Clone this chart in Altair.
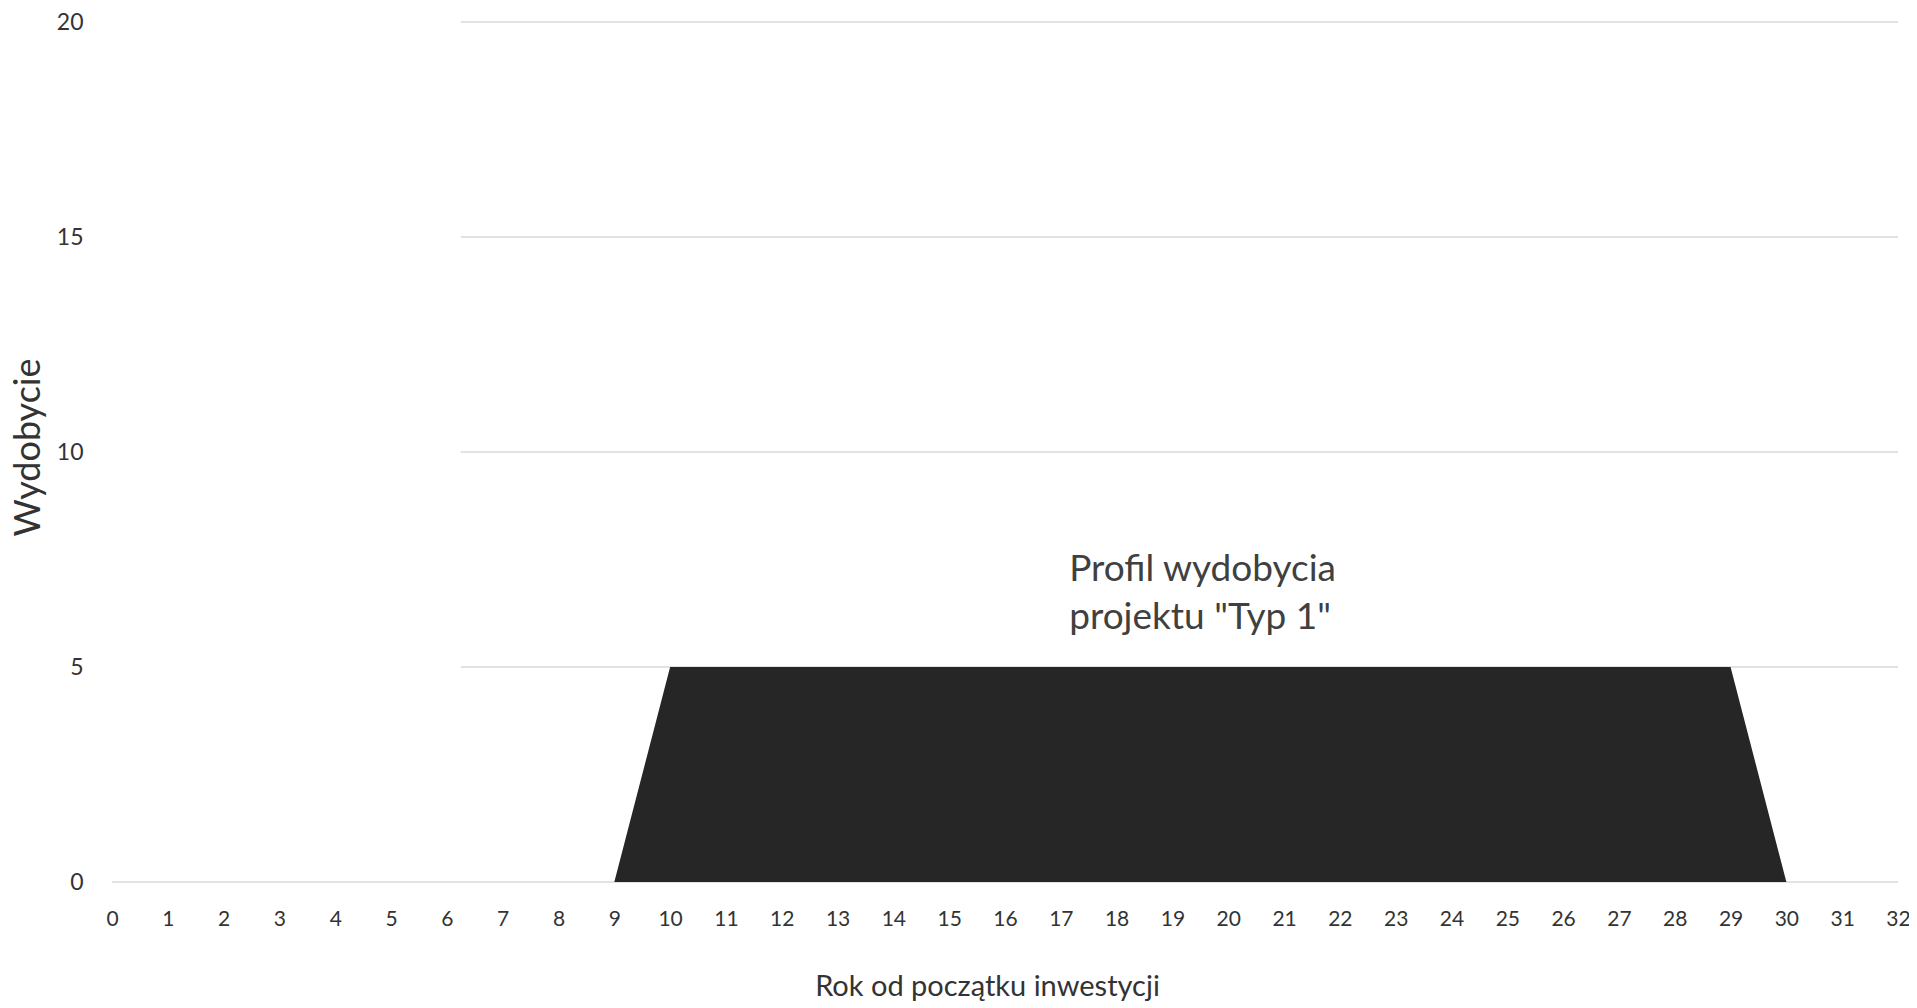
import altair as alt
import pandas as pd

# --- data ---
years = [0, 1, 2, 3, 4, 5, 6, 7, 8, 9, 10, 11, 12, 13, 14, 15, 16,
         17, 18, 19, 20, 21, 22, 23, 24, 25, 26, 27, 28, 29, 30, 31, 32]
production = [0, 0, 0, 0, 0, 0, 0, 0, 0, 0, 5, 5, 5, 5, 5, 5, 5,
              5, 5, 5, 5, 5, 5, 5, 5, 5, 5, 5, 5, 5, 0, 0, 0]
x_ticks = years
y_ticks = [0, 5, 10, 15, 20]
grid_start = [0, 6.25, 6.25, 6.25, 6.25]   # gridlines above 0 are hidden left of ~6.25
grid_end = [32, 32, 32, 32, 32]
annotation = ["Profil wydobycia", 'projektu "Typ 1"']
ann_x = [17.15]
ann_y = [7.26]

df = pd.DataFrame({"rok": years, "wydobycie": production})
grid = pd.DataFrame({"y": y_ticks, "x1": grid_start, "x2": grid_end})
ann = pd.DataFrame({"x": ann_x, "y": ann_y})

FONT = "Lato"
TXT = "#333333"

xscale = alt.Scale(domain=[0, 32], nice=False, zero=False)
yscale = alt.Scale(domain=[0, 20], nice=False)

x_axis = alt.Axis(
    values=x_ticks, title="Rok od początku inwestycji", grid=False, ticks=False,
    domain=False, labelFont=FONT, labelFontSize=21, labelColor=TXT,
    labelPadding=26, labelFlush=False, labelOverlap=False,
    titleFont=FONT, titleFontSize=29, titleFontWeight="normal", titleColor=TXT,
    titleX=875, titleY=104, titleAnchor="middle", titleAlign="center", titleBaseline="middle",
)
y_axis = alt.Axis(
    values=y_ticks, title="Wydobycie", grid=False, ticks=False, domain=False,
    labelFont=FONT, labelFontSize=23, labelColor=TXT, labelPadding=29,
    labelBaseline="middle", labelFlush=False,
    titleFont=FONT, titleFontSize=36, titleFontWeight="normal", titleColor=TXT,
    titleX=-84, titleY=425, titleAngle=270, titleAlign="center", titleBaseline="middle",
)

rules = alt.Chart(grid).mark_rule(color="#d9d9d9", strokeWidth=1.4).encode(
    x=alt.X("x1:Q", scale=xscale, axis=x_axis),
    x2="x2:Q",
    y=alt.Y("y:Q", scale=yscale, axis=y_axis),
)

area = alt.Chart(df).mark_area(color="#262626", opacity=1, interpolate="linear").encode(
    x=alt.X("rok:Q", scale=xscale),
    y=alt.Y("wydobycie:Q", scale=yscale),
)

text = alt.Chart(ann).mark_text(
    text=annotation, font=FONT, fontSize=37, color="#404040",
    align="left", baseline="middle", lineHeight=48,
).encode(
    x=alt.X("x:Q", scale=xscale),
    y=alt.Y("y:Q", scale=yscale),
)

chart = alt.layer(rules, area, text).properties(
    width=1786, height=860,
    autosize=alt.AutoSizeParams(type="none"),
    padding={"left": 104, "top": 14, "right": 11, "bottom": 124},
    background="white",
).configure_view(stroke=None)

chart.save("out.html", embed_options={"renderer": "svg", "actions": False})
